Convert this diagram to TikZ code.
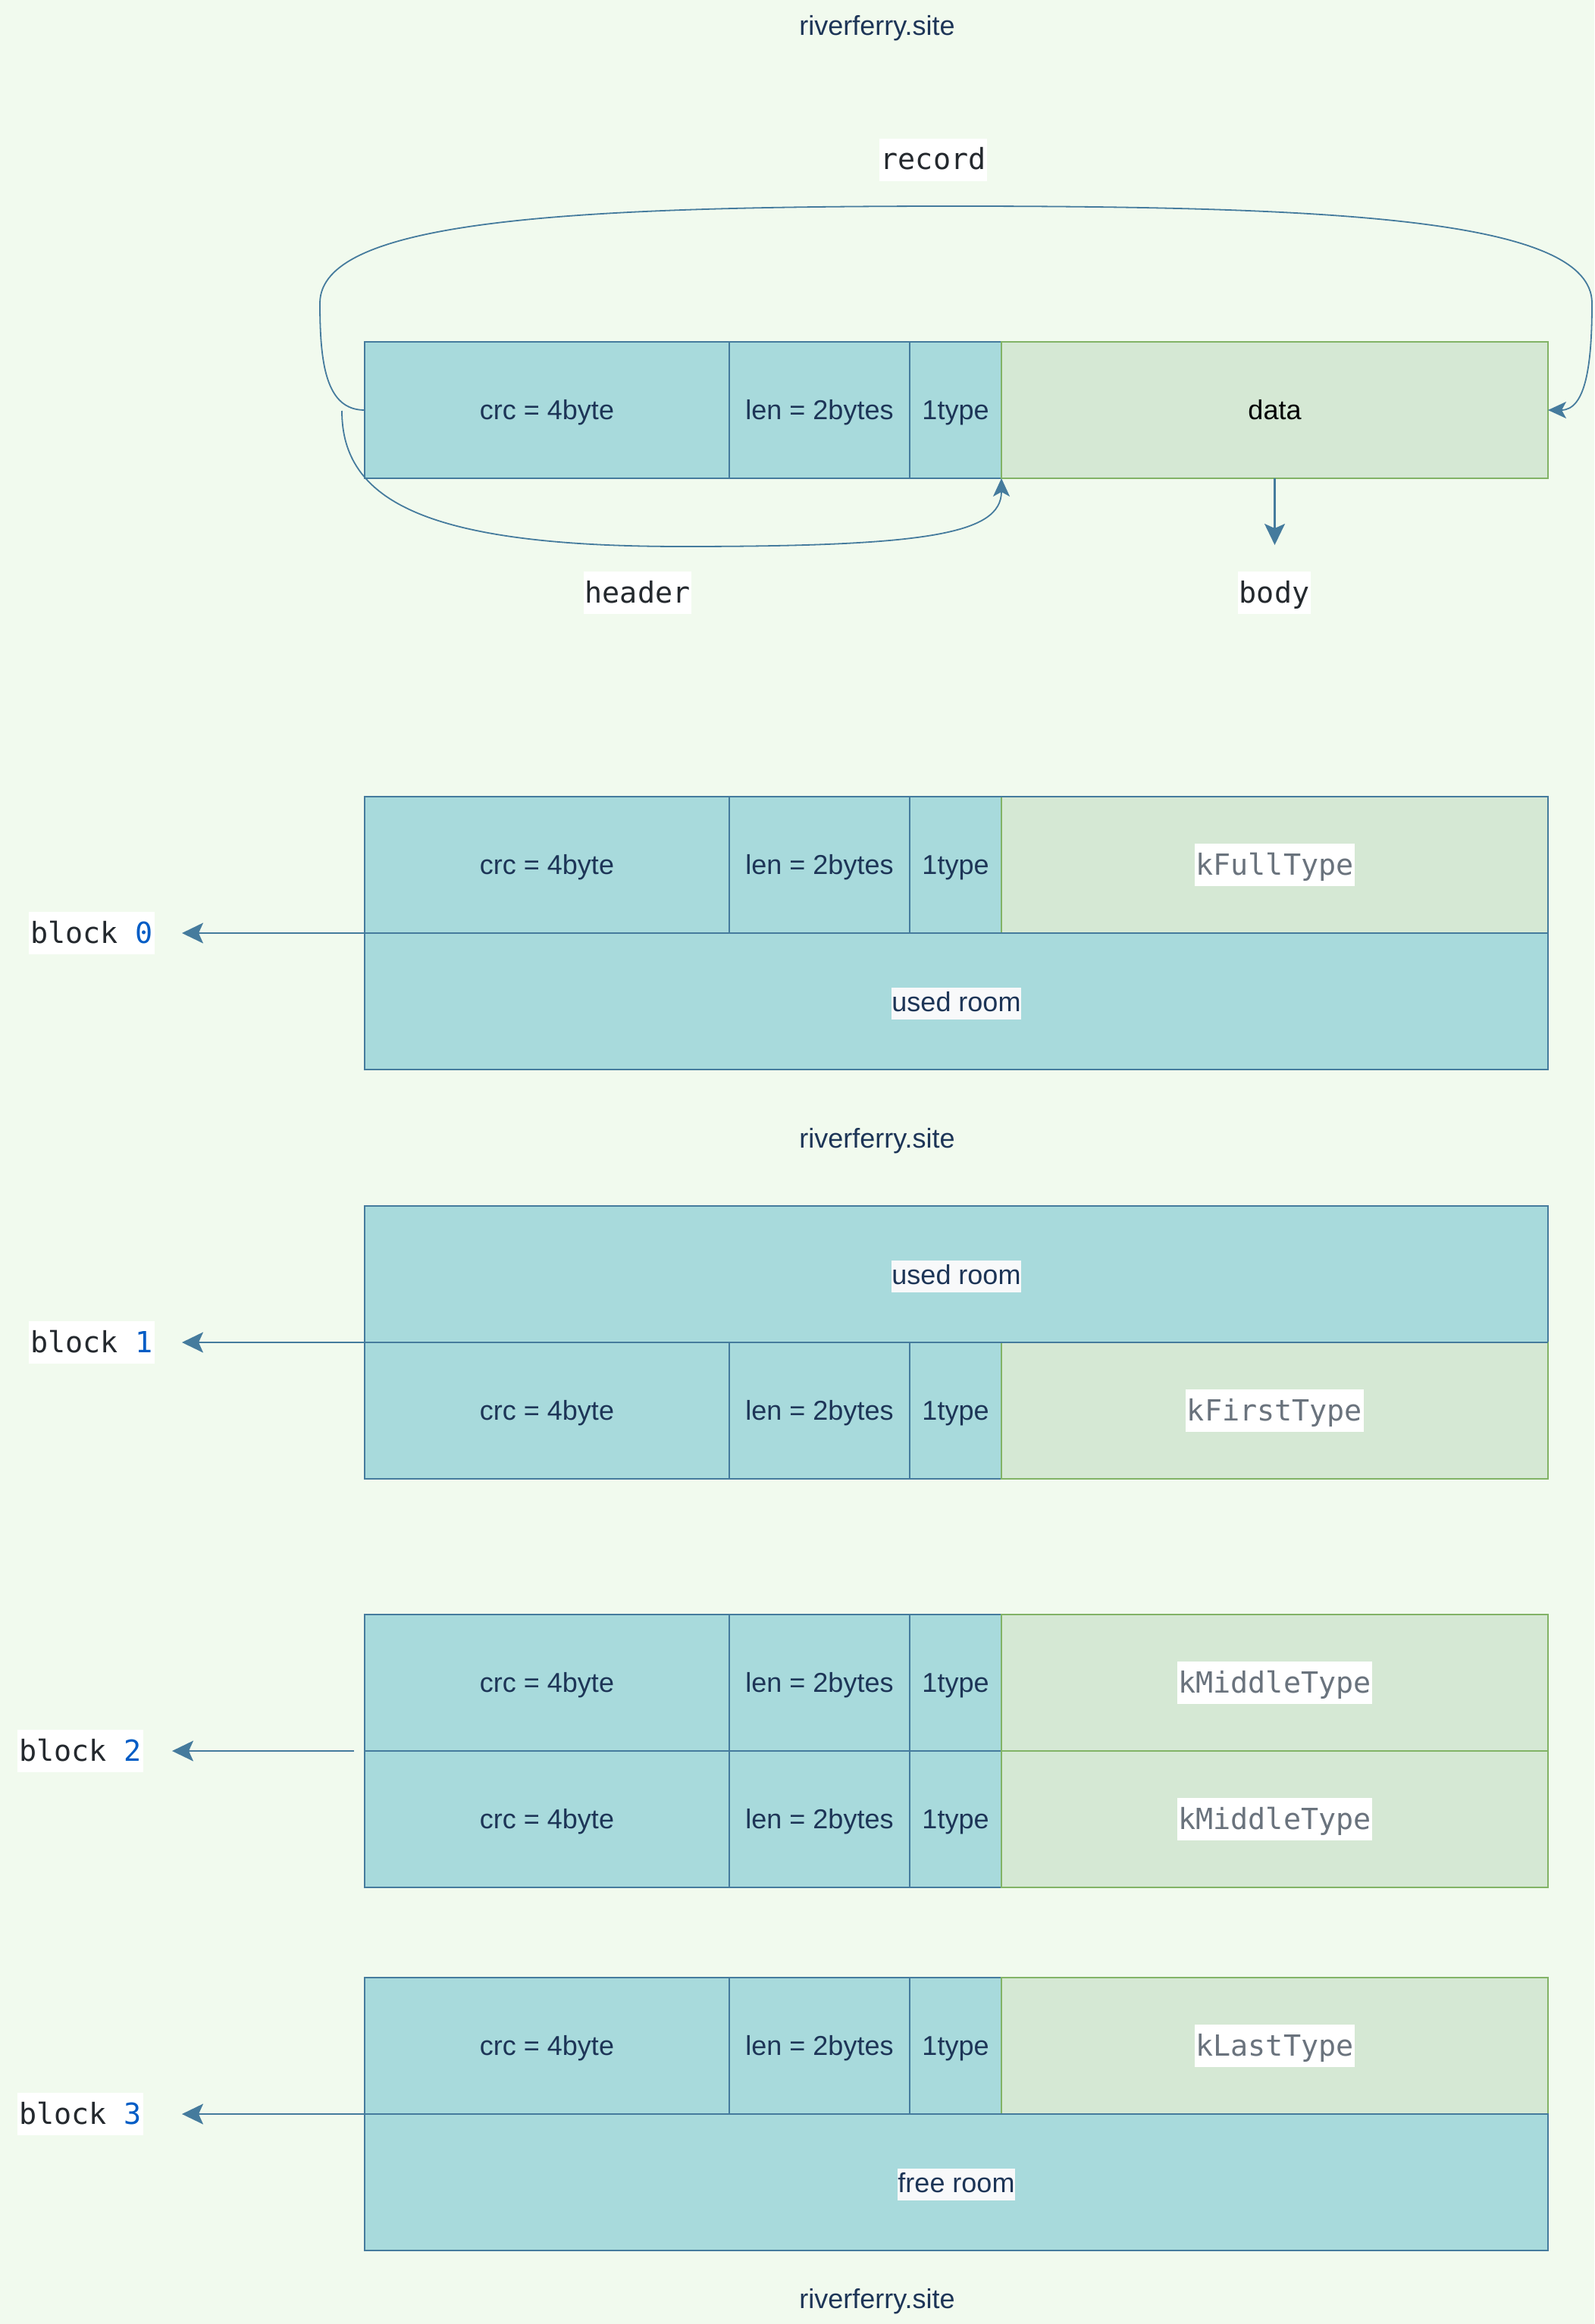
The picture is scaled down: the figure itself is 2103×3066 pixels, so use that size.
\documentclass[tikz,border=0pt]{standalone}
\usepackage{fontspec}
\setmainfont{Liberation Sans}
\newfontfamily\monofnt{DejaVu Sans Mono}
\usetikzlibrary{arrows.meta}
\definecolor{bgc}{HTML}{F1FAEE}
\definecolor{cTeal}{HTML}{A8DADC}
\definecolor{cBlue}{HTML}{457B9D}
\definecolor{cText}{HTML}{1D3557}
\definecolor{cGreen}{HTML}{D5E8D4}
\definecolor{cGreenD}{HTML}{82B366}
\definecolor{cCode}{HTML}{24292E}
\definecolor{cNum}{HTML}{005CC5}
\definecolor{cGray}{HTML}{6A737D}
\definecolor{cLbl}{HTML}{F8F9FA}
\newcommand{\codelbl}[1]{{\setlength{\fboxsep}{0pt}\colorbox{white}{\hspace{0.8pt}\rule[-7.5pt]{0pt}{28pt}\monofnt\fontsize{19.2}{23}\selectfont\color{cGray}#1\hspace{0.8pt}}}}
\newcommand{\roomlbl}[1]{{\setlength{\fboxsep}{0pt}\colorbox{cLbl}{\rule[-5.5pt]{0pt}{21pt}#1}}}
\newcommand{\blk}[1]{{\color{cCode}block }{\color{cNum}#1}}
\newcommand{\myrow}[4]{%
  \node[cellb,txt,wa] (#1c) at (481,#2) {crc = 4byte};
  \node[cellb,txt,wb] (#1l) at (962,#2) {len = 2bytes};
  \node[cellb,txt,wc] (#1t) at (1200,#2) {1type};
  \node[cellg,wd,#4] (#1d) at (1321,#2) {#3};
}
\begin{document}
\begin{tikzpicture}[x=0.5pt,y=-0.5pt,
  cellb/.style={draw=cBlue, fill=cTeal, line width=1.1pt, text=cText,
    font=\fontsize{18}{21.6}\selectfont, inner sep=0pt, outer sep=0pt,
    minimum height=90pt, anchor=north west},
  cellg/.style={cellb, draw=cGreenD, fill=cGreen},
  txt/.style={text height=16.3pt, text depth=3.8pt},
  room/.style={text height=18.5pt, text depth=5.5pt},
  wa/.style={minimum width=240.5pt},
  wb/.style={minimum width=119pt},
  wc/.style={minimum width=60.5pt},
  wd/.style={minimum width=360.5pt},
  wfull/.style={minimum width=780.5pt},
  ttl/.style={text=cText, font=\fontsize{18}{21.6}\selectfont, inner sep=0pt},
  code/.style={fill=white, text=cCode, font=\monofnt\fontsize{19.2}{23}\selectfont,
    inner xsep=0.8pt, inner ysep=0pt, text height=20.5pt, text depth=7.5pt},
  conn/.style={draw=cBlue, line width=1.1pt, -{Stealth[length=14pt,width=13.5pt,inset=3pt]}},
  curv/.style={draw=cBlue, line width=0.9pt, -{Stealth[length=12pt,width=11pt,inset=3pt]}}
]
\fill[bgc] (0,0) rectangle (2103,3066);
\useasboundingbox (0,0) rectangle (2103,3066);

% titles
\node[ttl] (t1) at (1157,37) {riverferry.site};
\node[ttl] (t2) at (1157,1505) {riverferry.site};
\node[ttl] (t3) at (1157,3036) {riverferry.site};

% record
\myrow{r}{451}{\color{black}data}{txt}
\node[code] (lrec) at (1231,211) {record};
\node[code] (lhead) at (841,782) {header};
\node[code] (lbody) at (1681,782) {body};
\coordinate (hstart) at (451,542);
\coordinate (bodyend) at ([yshift=-44pt]rd.south);
\draw[curv] (rc.west) .. controls (430,541) and (422,480) .. (422,400)
  .. controls (422,290) and (750,272) .. (1260,272)
  .. controls (1770,272) and (2100,290) .. (2100,400)
  .. controls (2100,480) and (2092,541) .. (rd.east);
\draw[curv] (hstart) .. controls (451,660) and (560,721) .. (900,721)
  .. controls (1220,721) and (1321,705) .. (rt.south east);
\draw[conn] (rd.south) -- (bodyend);

% block 0
\myrow{a}{1051}{\codelbl{kFullType}}{}
\node[cellb,room,wfull] (au) at (481,1231) {\roomlbl{used room}};
\draw[cBlue, line width=1.2pt] (ac.north west) rectangle (au.south east);
\node[code] (l0) at (121,1231) {\blk{0}};
\coordinate (e0) at (240,1231);
\draw[conn] (ac.south west) -- (e0);

% block 1
\node[cellb,room,wfull] (bu) at (481,1591) {\roomlbl{used room}};
\myrow{b}{1771}{\codelbl{kFirstType}}{}
\draw[cBlue, line width=1.1pt] (bu.south west) -- (bu.south east);
\node[code] (l1) at (121,1771) {\blk{1}};
\coordinate (e1) at (240,1771);
\draw[conn] (bc.north west) -- (e1);

% block 2
\myrow{c}{2130}{\codelbl{kMiddleType}}{}
\myrow{d}{2310}{\codelbl{kMiddleType}}{}
\node[code] (l2) at (106,2310) {\blk{2}};
\coordinate (s2) at (467,2310);
\coordinate (e2) at (227,2310);
\draw[conn] (s2) -- (e2);

% block 3
\myrow{e}{2609}{\codelbl{kLastType}}{}
\node[cellb,room,wfull] (eu) at (481,2789) {\roomlbl{free room}};
\node[code] (l3) at (106,2789) {\blk{3}};
\coordinate (e3) at (240,2789);
\draw[conn] (ec.south west) -- (e3);
\end{tikzpicture}
\end{document}
